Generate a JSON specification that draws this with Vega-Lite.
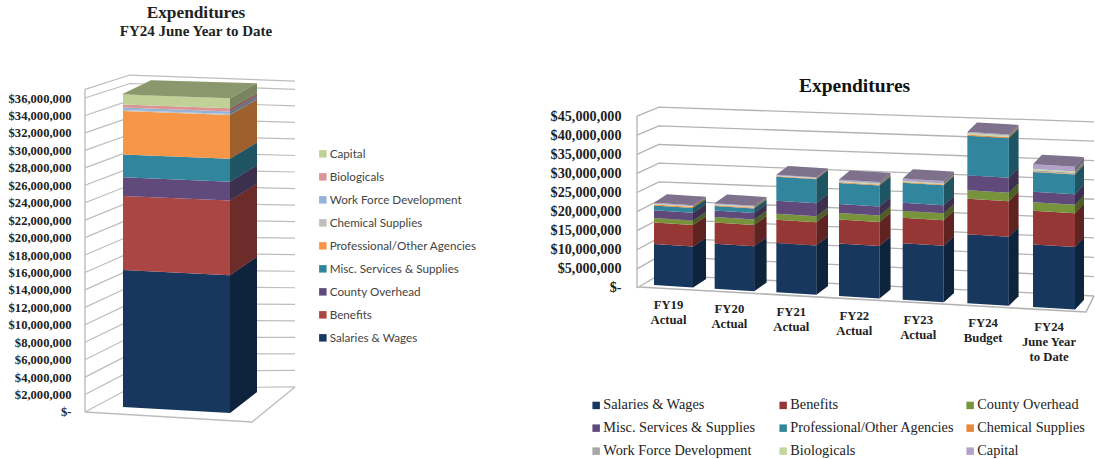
{
"$schema":"https://vega.github.io/schema/vega-lite/v6.json",
"background":"white",
"padding":{"left":8,"top":4,"right":0,"bottom":0},
"bounds":"flush",
"spacing":0,
"config":{"view":{"stroke":null}},
"resolve":{"scale":{"color":"independent"},"legend":{"color":"independent"}},
"hconcat":[
{
"width":552,"height":363,
"title":{"text":"Expenditures","subtitle":"FY24 June Year to Date","font":"Liberation Serif","fontSize":17.3,"fontWeight":"bold","color":"#222222","subtitleFont":"Liberation Serif","subtitleFontSize":15,"subtitleFontWeight":"bold","subtitleColor":"#222222","subtitlePadding":2,"anchor":"middle","frame":"group","dx":-165,"offset":34},
"data":{"values":[
{"fy":"FY24 June Year to Date","series":"Salaries & Wages","value":15700000},
{"fy":"FY24 June Year to Date","series":"Benefits","value":8500000},
{"fy":"FY24 June Year to Date","series":"County Overhead","value":2150000},
{"fy":"FY24 June Year to Date","series":"Misc. Services & Supplies","value":2600000},
{"fy":"FY24 June Year to Date","series":"Professional/Other Agencies","value":5000000},
{"fy":"FY24 June Year to Date","series":"Chemical Supplies","value":100000},
{"fy":"FY24 June Year to Date","series":"Work Force Development","value":300000},
{"fy":"FY24 June Year to Date","series":"Biologicals","value":350000},
{"fy":"FY24 June Year to Date","series":"Capital","value":1150000}
]},
"transform":[{"stack":"value","groupby":["fy"],"as":["v0","v1"]}],
"layer":[
{"data":{"values":[{"level":0},{"level":2000000},{"level":4000000},{"level":6000000},{"level":8000000},{"level":10000000},{"level":12000000},{"level":14000000},{"level":16000000},{"level":18000000},{"level":20000000},{"level":22000000},{"level":24000000},{"level":26000000},{"level":28000000},{"level":30000000},{"level":32000000},{"level":34000000},{"level":36000000},{"level":37000000}]},
 "transform":[{"calculate":"[0,1,2]","as":"corner"},{"flatten":["corner"]},
  {"calculate":"[0,45,210][datum.corner]","as":"gx"},
  {"calculate":"[datum.level,2750000+0.97*datum.level,2870000+0.948*datum.level][datum.corner]","as":"gy"}],
 "mark":{"type":"line","color":"#bdbdbd","strokeWidth":1.2},
 "encoding":{
  "x":{"field":"gx","type":"quantitative","scale":{"domain":[0,552],"nice":false,"zero":false},"axis":null},
  "y":{"field":"gy","type":"quantitative","stack":false,"scale":{"domain":[-5275000,36350000],"nice":false,"zero":false},
   "axis":{"values":[0,2000000,4000000,6000000,8000000,10000000,12000000,14000000,16000000,18000000,20000000,22000000,24000000,26000000,28000000,30000000,32000000,34000000,36000000],"tickCount":40,"labelExpr":"datum.value==0?'$-\u00a0\u00a0':'$'+format(datum.value,',')","title":null,"domain":false,"ticks":false,"grid":false,"labelFont":"Liberation Serif","labelFontWeight":"bold","labelFontSize":12.6,"labelColor":"#222222","labelPadding":14,"labelOverlap":false}},
  "detail":{"field":"level"}}},
{"data":{"values":[{"level":0},{"level":37000000}]},
 "mark":{"type":"line","color":"#bdbdbd","strokeWidth":1.4},
 "encoding":{"x":{"datum":0,"type":"quantitative"},"y":{"field":"level","type":"quantitative","stack":false}}},
{"data":{"values":[{"corner":0},{"corner":1},{"corner":2}]},
 "transform":[{"calculate":"[0,167,210][datum.corner]","as":"gx"},{"calculate":"[0,-1150000,2870000][datum.corner]","as":"gy"}],
 "mark":{"type":"line","color":"#bdbdbd","strokeWidth":1.4},
 "encoding":{"x":{"field":"gx","type":"quantitative"},"y":{"field":"gy","type":"quantitative","stack":false}}},
{"transform":[{"calculate":"[0,1]","as":"d"},{"flatten":["d"]},
  {"calculate":"145+27*datum.d","as":"px"},
  {"calculate":"(-1000000+21000000*datum.d+(8.78-0.17*datum.d)*datum.v1)/8.72","as":"yt"},
  {"calculate":"(-1000000+21000000*datum.d+(8.78-0.17*datum.d)*datum.v0)/8.72","as":"yb"}],
 "layer":[
  {"mark":{"type":"area"},"encoding":{"x":{"field":"px","type":"quantitative"},"y":{"field":"yt","type":"quantitative","stack":false},"y2":{"field":"yb"},"detail":{"field":"series"},
   "color":{"field":"series","type":"nominal","scale":{"domain":["Capital","Biologicals","Work Force Development","Chemical Supplies","Professional/Other Agencies","Misc. Services & Supplies","County Overhead","Benefits","Salaries & Wages"],"range":["#BFD196","#D99694","#95B3D7","#BFBFBF","#F79646","#31859C","#604A7B","#AA4643","#17375E"]},
    "legend":{"title":null,"orient":"none","legendX":232,"legendY":53,"columns":1,"symbolType":"square","symbolSize":56,"symbolStrokeWidth":0,"labelFont":"Lato","labelFontSize":11.7,"labelColor":"#444444","rowPadding":10,"labelOffset":1,"labelLimit":200}}}},
  {"mark":{"type":"area","color":"#000000","opacity":0.36},"encoding":{"x":{"field":"px","type":"quantitative"},"y":{"field":"yt","type":"quantitative","stack":false},"y2":{"field":"yb"},"detail":{"field":"series"}}}
 ]},
{"transform":[{"calculate":"[0,1]","as":"u"},{"flatten":["u"]},
  {"calculate":"38+107*datum.u","as":"px"},
  {"calculate":"(5000000-6000000*datum.u+(8.72+0.06*datum.u)*datum.v1)/8.72","as":"yt"},
  {"calculate":"(5000000-6000000*datum.u+(8.72+0.06*datum.u)*datum.v0)/8.72","as":"yb"}],
 "mark":{"type":"area"},
 "encoding":{"x":{"field":"px","type":"quantitative"},"y":{"field":"yt","type":"quantitative","stack":false},"y2":{"field":"yb"},"detail":{"field":"series"},"color":{"field":"series","type":"nominal"}}},
{"transform":[{"filter":"datum.series=='Capital'"},{"calculate":"[0,1,2,3]","as":"t"},{"flatten":["t"]},
  {"calculate":"[37,66,145,172][datum.t]","as":"px"},
  {"calculate":"(5000000+8.72*datum.v1)/8.72","as":"front"},
  {"calculate":"datum.front+[0,14,11.8,11][datum.t]*1000000/8.72","as":"yt"},
  {"calculate":"datum.front+[0,-1.07,-4,11][datum.t]*1000000/8.72","as":"yb"}],
 "layer":[
  {"mark":{"type":"area"},"encoding":{"x":{"field":"px","type":"quantitative"},"y":{"field":"yt","type":"quantitative","stack":false},"y2":{"field":"yb"},"color":{"field":"series","type":"nominal"}}},
  {"mark":{"type":"area","color":"#000000","opacity":0.27},"encoding":{"x":{"field":"px","type":"quantitative"},"y":{"field":"yt","type":"quantitative","stack":false},"y2":{"field":"yb"}}}
 ]}
]
},
{
"width":457,"height":363,
"title":{"text":"Expenditures","font":"Liberation Serif","fontSize":19.5,"fontWeight":"bold","color":"#111111","anchor":"middle","frame":"group","dx":-11,"offset":-1},
"data":{"values":[
{"fy":"FY19 Actual","series":"Salaries & Wages","value":10800000},{"fy":"FY19 Actual","series":"Benefits","value":5650000},{"fy":"FY19 Actual","series":"County Overhead","value":1200000},{"fy":"FY19 Actual","series":"Misc. Services & Supplies","value":2000000},{"fy":"FY19 Actual","series":"Professional/Other Agencies","value":1300000},{"fy":"FY19 Actual","series":"Chemical Supplies","value":200000},{"fy":"FY19 Actual","series":"Work Force Development","value":50000},{"fy":"FY19 Actual","series":"Biologicals","value":200000},{"fy":"FY19 Actual","series":"Capital","value":250000},
{"fy":"FY20 Actual","series":"Salaries & Wages","value":11700000},{"fy":"FY20 Actual","series":"Benefits","value":5600000},{"fy":"FY20 Actual","series":"County Overhead","value":1400000},{"fy":"FY20 Actual","series":"Misc. Services & Supplies","value":1700000},{"fy":"FY20 Actual","series":"Professional/Other Agencies","value":1200000},{"fy":"FY20 Actual","series":"Chemical Supplies","value":200000},{"fy":"FY20 Actual","series":"Work Force Development","value":50000},{"fy":"FY20 Actual","series":"Biologicals","value":200000},{"fy":"FY20 Actual","series":"Capital","value":250000},
{"fy":"FY21 Actual","series":"Salaries & Wages","value":12800000},{"fy":"FY21 Actual","series":"Benefits","value":6000000},{"fy":"FY21 Actual","series":"County Overhead","value":1550000},{"fy":"FY21 Actual","series":"Misc. Services & Supplies","value":3400000},{"fy":"FY21 Actual","series":"Professional/Other Agencies","value":6200000},{"fy":"FY21 Actual","series":"Chemical Supplies","value":150000},{"fy":"FY21 Actual","series":"Work Force Development","value":50000},{"fy":"FY21 Actual","series":"Biologicals","value":100000},{"fy":"FY21 Actual","series":"Capital","value":200000},
{"fy":"FY22 Actual","series":"Salaries & Wages","value":13500000},{"fy":"FY22 Actual","series":"Benefits","value":6150000},{"fy":"FY22 Actual","series":"County Overhead","value":1700000},{"fy":"FY22 Actual","series":"Misc. Services & Supplies","value":2300000},{"fy":"FY22 Actual","series":"Professional/Other Agencies","value":5400000},{"fy":"FY22 Actual","series":"Chemical Supplies","value":200000},{"fy":"FY22 Actual","series":"Work Force Development","value":50000},{"fy":"FY22 Actual","series":"Biologicals","value":250000},{"fy":"FY22 Actual","series":"Capital","value":400000},
{"fy":"FY23 Actual","series":"Salaries & Wages","value":14400000},{"fy":"FY23 Actual","series":"Benefits","value":6500000},{"fy":"FY23 Actual","series":"County Overhead","value":1800000},{"fy":"FY23 Actual","series":"Misc. Services & Supplies","value":2000000},{"fy":"FY23 Actual","series":"Professional/Other Agencies","value":5100000},{"fy":"FY23 Actual","series":"Chemical Supplies","value":200000},{"fy":"FY23 Actual","series":"Work Force Development","value":50000},{"fy":"FY23 Actual","series":"Biologicals","value":250000},{"fy":"FY23 Actual","series":"Capital","value":600000},
{"fy":"FY24 Budget","series":"Salaries & Wages","value":17500000},{"fy":"FY24 Budget","series":"Benefits","value":9000000},{"fy":"FY24 Budget","series":"County Overhead","value":2100000},{"fy":"FY24 Budget","series":"Misc. Services & Supplies","value":3800000},{"fy":"FY24 Budget","series":"Professional/Other Agencies","value":10000000},{"fy":"FY24 Budget","series":"Chemical Supplies","value":250000},{"fy":"FY24 Budget","series":"Work Force Development","value":100000},{"fy":"FY24 Budget","series":"Biologicals","value":350000},{"fy":"FY24 Budget","series":"Capital","value":300000},
{"fy":"FY24 June Year to Date","series":"Salaries & Wages","value":15700000},{"fy":"FY24 June Year to Date","series":"Benefits","value":8500000},{"fy":"FY24 June Year to Date","series":"County Overhead","value":2150000},{"fy":"FY24 June Year to Date","series":"Misc. Services & Supplies","value":2600000},{"fy":"FY24 June Year to Date","series":"Professional/Other Agencies","value":5000000},{"fy":"FY24 June Year to Date","series":"Chemical Supplies","value":100000},{"fy":"FY24 June Year to Date","series":"Work Force Development","value":300000},{"fy":"FY24 June Year to Date","series":"Biologicals","value":350000},{"fy":"FY24 June Year to Date","series":"Capital","value":1150000}
]},
"transform":[{"stack":"value","groupby":["fy"],"as":["v0","v1"]},
 {"calculate":"indexof(['FY19 Actual','FY20 Actual','FY21 Actual','FY22 Actual','FY23 Actual','FY24 Budget','FY24 June Year to Date'],datum.fy)","as":"i"},
 {"calculate":"17+60.17*datum.i+0.5*datum.i*datum.i","as":"xf"},
 {"calculate":"39+0.5*datum.i","as":"w"},
 {"calculate":"13-0.67*datum.i","as":"dx"},
 {"calculate":"8.5+0.2*datum.i","as":"rise"},
 {"calculate":"3.8+0.03*datum.i","as":"k"}],
"layer":[
{"data":{"values":[{"level":0},{"level":5000000},{"level":10000000},{"level":15000000},{"level":20000000},{"level":25000000},{"level":30000000},{"level":35000000},{"level":40000000},{"level":45000000}]},
 "transform":[{"calculate":"[0,1,2]","as":"corner"},{"flatten":["corner"]},
  {"calculate":"[0,22,457][datum.corner]","as":"gx"},
  {"calculate":"[datum.level,3400000+0.976*datum.level,-2090000+1.013*datum.level][datum.corner]","as":"gy"}],
 "mark":{"type":"line","color":"#b3b3b3","strokeWidth":1.3},
 "encoding":{
  "x":{"field":"gx","type":"quantitative","scale":{"domain":[0,457],"nice":false,"zero":false},"axis":null},
  "y":{"field":"gy","type":"quantitative","stack":false,"scale":{"domain":[-44500000,50520000],"nice":false,"zero":false},
   "axis":{"values":[0,5000000,10000000,15000000,20000000,25000000,30000000,35000000,40000000,45000000],"tickCount":40,"labelExpr":"datum.value==0?'$-\u00a0':'$'+format(datum.value,',')","title":null,"domain":false,"ticks":false,"grid":false,"labelFont":"Liberation Serif","labelFontWeight":"bold","labelFontSize":14.2,"labelColor":"#222222","labelPadding":16,"labelOverlap":false}},
  "detail":{"field":"level"}}},
{"data":{"values":[{"level":0},{"level":45000000}]},
 "mark":{"type":"line","color":"#b3b3b3","strokeWidth":1.3},
 "encoding":{"x":{"datum":0,"type":"quantitative"},"y":{"field":"level","type":"quantitative","stack":false}}},
{"data":{"values":[{"corner":0},{"corner":1},{"corner":2}]},
 "transform":[{"calculate":"[2,449,457][datum.corner]","as":"gx"},{"calculate":"[260000,-6280000,-2090000][datum.corner]","as":"gy"}],
 "mark":{"type":"line","color":"#b3b3b3","strokeWidth":1.6},
 "encoding":{"x":{"field":"gx","type":"quantitative"},"y":{"field":"gy","type":"quantitative","stack":false}}},
{"transform":[{"calculate":"[0,1]","as":"d"},{"flatten":["d"]},
  {"calculate":"datum.xf+datum.w+datum.d*datum.dx","as":"px"},
  {"calculate":"((3-3.67*datum.i-2.5+datum.rise*datum.d)*1000000+datum.k*datum.v1)/3.82","as":"yt"},
  {"calculate":"((3-3.67*datum.i-2.5+datum.rise*datum.d)*1000000+datum.k*datum.v0)/3.82","as":"yb"}],
 "layer":[
  {"mark":{"type":"area"},"encoding":{"x":{"field":"px","type":"quantitative"},"y":{"field":"yt","type":"quantitative","stack":false},"y2":{"field":"yb"},"detail":[{"field":"fy"},{"field":"series"}],
   "color":{"field":"series","type":"nominal","scale":{"domain":["Salaries & Wages","Benefits","County Overhead","Misc. Services & Supplies","Professional/Other Agencies","Chemical Supplies","Work Force Development","Biologicals","Capital"],"range":["#17375E","#953735","#77933C","#604A7B","#31859C","#E6873A","#A6A6A6","#C3D69B","#B3A2C7"]},
    "legend":{"title":null,"orient":"none","legendX":-48,"legendY":303,"direction":"horizontal","columns":3,"gridAlign":"all","columnPadding":8,"rowPadding":8,"symbolType":"square","symbolSize":56,"symbolStrokeWidth":0,"labelFont":"Liberation Serif","labelFontSize":14.3,"labelColor":"#222222","labelOffset":0,"labelLimit":220}}}},
  {"mark":{"type":"area","color":"#000000","opacity":0.36},"encoding":{"x":{"field":"px","type":"quantitative"},"y":{"field":"yt","type":"quantitative","stack":false},"y2":{"field":"yb"},"detail":[{"field":"fy"},{"field":"series"}]}}
 ]},
{"transform":[{"calculate":"[0,1]","as":"u"},{"flatten":["u"]},
  {"calculate":"datum.xf+datum.w*datum.u","as":"px"},
  {"calculate":"((3-3.67*datum.i-2.5*datum.u)*1000000+datum.k*datum.v1)/3.82","as":"yt"},
  {"calculate":"((3-3.67*datum.i-2.5*datum.u)*1000000+datum.k*datum.v0)/3.82","as":"yb"}],
 "mark":{"type":"area"},
 "encoding":{"x":{"field":"px","type":"quantitative"},"y":{"field":"yt","type":"quantitative","stack":false},"y2":{"field":"yb"},"detail":[{"field":"fy"},{"field":"series"}],"color":{"field":"series","type":"nominal"}}},
{"transform":[{"filter":"datum.series=='Capital'"},{"calculate":"[0,1,2,3]","as":"t"},{"flatten":["t"]},
  {"calculate":"[datum.xf,datum.xf+datum.dx,datum.xf+datum.w,datum.xf+datum.w+datum.dx][datum.t]","as":"px"},
  {"calculate":"((3-3.67*datum.i)*1000000+datum.k*datum.v1)/3.82","as":"front"},
  {"calculate":"datum.front+[0,datum.rise,datum.rise-2.5*(datum.w-datum.dx)/datum.w,datum.rise-2.5][datum.t]*1000000/3.82","as":"yt"},
  {"calculate":"datum.front+[0,-2.5*datum.dx/datum.w,-2.5,datum.rise-2.5][datum.t]*1000000/3.82","as":"yb"}],
 "layer":[
  {"mark":{"type":"area"},"encoding":{"x":{"field":"px","type":"quantitative"},"y":{"field":"yt","type":"quantitative","stack":false},"y2":{"field":"yb"},"detail":{"field":"fy"},"color":{"field":"series","type":"nominal"}}},
  {"mark":{"type":"area","color":"#000000","opacity":0.3},"encoding":{"x":{"field":"px","type":"quantitative"},"y":{"field":"yt","type":"quantitative","stack":false},"y2":{"field":"yb"},"detail":{"field":"fy"}}}
 ]},
{"data":{"values":[
 {"fy":"FY19 Actual","lines":["FY19","Actual"]},{"fy":"FY20 Actual","lines":["FY20","Actual"]},{"fy":"FY21 Actual","lines":["FY21","Actual"]},{"fy":"FY22 Actual","lines":["FY22","Actual"]},{"fy":"FY23 Actual","lines":["FY23","Actual"]},{"fy":"FY24 Budget","lines":["FY24","Budget"]},{"fy":"FY24 June Year to Date","lines":["FY24","June Year","to Date"]}]},
 "transform":[{"calculate":"indexof(['FY19 Actual','FY20 Actual','FY21 Actual','FY22 Actual','FY23 Actual','FY24 Budget','FY24 June Year to Date'],datum.fy)","as":"i"},
  {"calculate":"17+60.17*datum.i+0.5*datum.i*datum.i+(39+0.5*datum.i)/2-5","as":"px"},
  {"calculate":"(-11-3.67*datum.i)*1000000/3.82","as":"py"}],
 "mark":{"type":"text","font":"Liberation Serif","fontWeight":"bold","fontSize":12.7,"lineHeight":15,"align":"center","baseline":"top","color":"#222222"},
 "encoding":{"x":{"field":"px","type":"quantitative"},"y":{"field":"py","type":"quantitative","stack":false},"text":{"field":"lines"}}}
]
}
]
}
